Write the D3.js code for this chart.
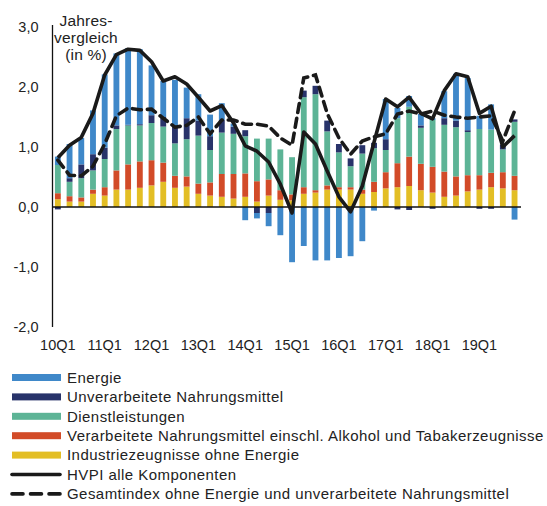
<!DOCTYPE html>
<html><head><meta charset="utf-8">
<script src="https://cdn.jsdelivr.net/npm/d3@7"></script>
<style>
html,body{margin:0;padding:0;background:#fff;}
svg{display:block;font-family:"Liberation Sans",Arial,sans-serif;}
</style></head>
<body>
<svg id="c" width="547" height="506"></svg>
<script>
const quarters = ["10Q1","10Q2","10Q3","10Q4","11Q1","11Q2","11Q3","11Q4","12Q1","12Q2","12Q3","12Q4",
"13Q1","13Q2","13Q3","13Q4","14Q1","14Q2","14Q3","14Q4","15Q1","15Q2","15Q3","15Q4",
"16Q1","16Q2","16Q3","16Q4","17Q1","17Q2","17Q3","17Q4","18Q1","18Q2","18Q3","18Q4",
"19Q1","19Q2","19Q3","19Q4"];
const tickLabels = ["10Q1","11Q1","12Q1","13Q1","14Q1","15Q1","16Q1","17Q1","18Q1","19Q1"];
const yTicks = [3,2,1,0,-1,-2];

const industrie = [0.13,0.09,0.09,0.22,0.19,0.29,0.29,0.32,0.36,0.42,0.32,0.34,0.22,0.19,0.17,0.14,0.17,0.09,0.19,0.12,
0.11,0.22,0.24,0.29,0.29,0.29,0.22,0.25,0.31,0.33,0.35,0.28,0.24,0.17,0.19,0.26,0.29,0.33,0.31,0.28];
const verarbeitet = [0.10,0.09,0.07,0.07,0.14,0.32,0.42,0.44,0.42,0.32,0.20,0.17,0.17,0.22,0.38,0.41,0.39,0.34,0.27,0.16,
0.10,0.11,0.04,0.07,0.04,0.04,0.07,0.17,0.27,0.40,0.49,0.44,0.43,0.42,0.32,0.27,0.24,0.24,0.27,0.24];
const dienst = [0.47,0.24,0.32,0.32,0.47,0.69,0.65,0.60,0.62,0.60,0.54,0.62,0.80,0.54,0.69,0.67,0.62,0.71,0.68,0.68,
0.62,1.50,1.60,0.90,0.58,0.35,0.60,0.56,0.37,0.75,0.83,0.60,0.78,0.78,0.82,0.72,0.77,0.72,0.38,0.90];
const unverarbeitet = [-0.04,0.06,0.23,0.27,0.19,0.06,0.01,0.02,0.13,0.16,0.29,0.35,0.25,0.23,0.21,0.12,0.10,-0.10,-0.10,0.00,
0.00,0.11,0.14,0.18,0.14,0.13,0.14,0.09,0.18,-0.04,-0.05,0.04,-0.03,0.11,0.11,0.03,-0.03,-0.03,0.08,0.04];
const energie = [0.14,0.57,0.44,0.73,1.22,1.20,1.28,1.25,0.83,0.60,0.77,0.51,0.44,0.36,0.28,0.05,-0.22,-0.09,-0.22,-0.47,
-0.92,-0.65,-0.89,-0.89,-0.85,-0.82,-0.57,-0.06,0.67,0.17,0.18,0.19,0.03,0.45,0.78,0.87,0.22,0.42,0.00,-0.21];
const hvpi = [0.82,1.03,1.16,1.56,2.20,2.54,2.63,2.61,2.42,2.10,2.17,2.05,1.83,1.60,1.69,1.40,1.02,0.93,0.75,0.38,
-0.10,1.25,1.05,0.60,0.17,-0.08,0.35,1.08,1.80,1.67,1.83,1.56,1.47,1.94,2.22,2.17,1.56,1.68,1.00,1.19];
const kern = [0.78,0.53,0.52,0.68,1.05,1.52,1.65,1.62,1.63,1.48,1.33,1.36,1.50,1.22,1.45,1.45,1.38,1.38,1.35,1.15,
1.03,2.15,2.20,1.56,1.15,0.88,1.10,1.17,1.22,1.55,1.60,1.55,1.60,1.53,1.50,1.48,1.50,1.52,1.10,1.60];

const seriesNames = ["Energie","Unverarbeitete Nahrungsmittel","Dienstleistungen",
"Verarbeitete Nahrungsmittel einschl. Alkohol und Tabakerzeugnisse","Industriezeugnisse ohne Energie"];
const lineNames = ["HVPI alle Komponenten","Gesamtindex ohne Energie und unverarbeitete Nahrungsmittel"];
const colors = {ind:"#E3BE25", ver:"#D24B28", die:"#5DB496", unv:"#28336A", ene:"#3F88C9"};

const svg = d3.select("#c");
const x = d3.scaleBand().domain(quarters).range([52, 520.4]).paddingInner(0.5).paddingOuter(0.25);
const y = d3.scaleLinear().domain([-2, 3]).range([327, 27]);

const table = quarters.map((q,i)=>({q, ind:industrie[i], ver:verarbeitet[i], die:dienst[i], unv:unverarbeitet[i], ene:energie[i]}));
const keys = ["ind","ver","die","unv","ene"];
const stack = d3.stack().keys(keys).offset(d3.stackOffsetDiverging);
const layers = stack(table);

svg.append("g").selectAll("g").data(layers).join("g")
  .attr("fill", d=>colors[d.key])
  .selectAll("rect").data(d=>d).join("rect")
  .attr("x", d=>x(d.data.q))
  .attr("width", x.bandwidth())
  .attr("y", d=>y(Math.max(d[0],d[1])))
  .attr("height", d=>Math.abs(y(d[0])-y(d[1])));

// zero line
svg.append("line").attr("x1",52).attr("x2",521).attr("y1",y(0)).attr("y2",y(0))
  .attr("stroke","#111").attr("stroke-width",1.3);
// y axis
const yAxis = d3.axisLeft(y).tickValues(yTicks).tickSize(0).tickPadding(14)
  .tickFormat(d=>d3.format(".1f")(d).replace(".",",").replace("−","-"));
const ya = svg.append("g").attr("transform","translate(52.5,0)").call(yAxis);
ya.select(".domain").attr("stroke","#111").attr("stroke-width",1.3).attr("d","M0,25V327");
ya.selectAll("text").attr("font-size",14.5).attr("fill","#222").attr("font-family","Liberation Sans, Arial, sans-serif");

// x labels
const xa = d3.axisBottom(x).tickValues(tickLabels).tickSize(0).tickPadding(0);
const xg = svg.append("g").attr("transform","translate(0,340)").call(xa);
xg.select(".domain").remove();
xg.selectAll("text").attr("font-size",14.5).attr("fill","#222").attr("font-family","Liberation Sans, Arial, sans-serif");

// lines
const line = d3.line().x((d,i)=>x(quarters[i])+x.bandwidth()/2).y(d=>y(d));
svg.append("path").datum(kern).attr("d",line).attr("fill","none").attr("stroke","#1a1a1a")
  .attr("stroke-width",3.6).attr("stroke-dasharray","9,6").attr("stroke-linecap","round");
svg.append("path").datum(hvpi).attr("d",line).attr("fill","none").attr("stroke","#1a1a1a")
  .attr("stroke-width",3.6).attr("stroke-linejoin","round");

// title
const t = svg.append("text").attr("font-size",15.5).attr("letter-spacing",0.2).attr("fill","#222").attr("text-anchor","middle");
[["Jahres-",26],["vergleich",43],["(in %)",60]].forEach(([s,yy])=>t.append("tspan").attr("x",86).attr("y",yy).text(s));

// legend
const lg = svg.append("g");
const rowY = i => 377.5 + i*19.4;
const swCols = [colors.ene, colors.unv, colors.die, colors.ver, colors.ind];
seriesNames.forEach((n,i)=>{
  lg.append("rect").attr("x",12).attr("y",rowY(i)-3.5).attr("width",49).attr("height",7).attr("fill",swCols[i]);
  lg.append("text").attr("x",67).attr("y",rowY(i)).attr("dy","0.35em").attr("font-size",15)
    .attr("letter-spacing",0.45).attr("fill","#222").text(n);
});
lineNames.forEach((n,j)=>{
  const i = j+5;
  lg.append("line").attr("x1",12).attr("x2",60).attr("y1",rowY(i)).attr("y2",rowY(i))
    .attr("stroke","#1a1a1a").attr("stroke-width",3.6).attr("stroke-linecap","round")
    .attr("stroke-dasharray", j===1 ? "11,7.5" : null);
  lg.append("text").attr("x",67).attr("y",rowY(i)).attr("dy","0.35em").attr("font-size",15)
    .attr("letter-spacing",0.45).attr("fill","#222").text(n);
});
</script>
</body></html>
